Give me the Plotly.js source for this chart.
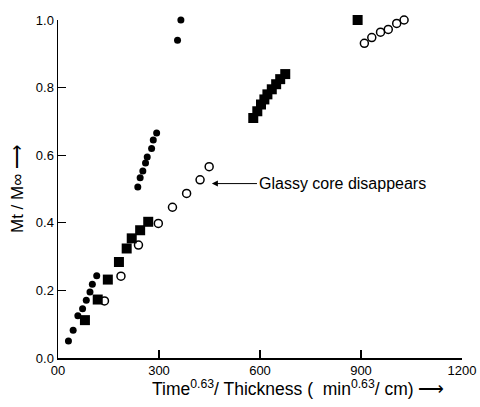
<!DOCTYPE html>
<html><head><meta charset="utf-8">
<script src="https://cdn.plot.ly/plotly-3.0.1.min.js"></script>
<style>html,body{margin:0;padding:0;background:#fff;}#chart{width:480px;height:407px;}</style>
</head><body><div id="chart"></div>
<script>
// Filled circles
const filledX = [31, 45, 59, 73, 84, 95, 102, 115, 237, 244, 252, 260, 265, 278, 283, 293, 355, 365];
const filledY = [0.050, 0.082, 0.125, 0.146, 0.171, 0.195, 0.218, 0.243, 0.506, 0.533, 0.553, 0.577, 0.595, 0.620, 0.645, 0.666, 0.94, 1.0];
// Open circles
const openX = [138, 187, 239, 298, 340, 382, 422, 449, 910, 932, 958, 981, 1006, 1028];
const openY = [0.169, 0.242, 0.334, 0.398, 0.446, 0.487, 0.527, 0.566, 0.931, 0.948, 0.964, 0.972, 0.990, 1.0];
// Filled squares
const squareX = [80, 118, 148, 181, 204, 219, 244, 268, 580, 592, 603, 613, 622, 635, 648, 660, 675, 890];
const squareY = [0.112, 0.173, 0.232, 0.284, 0.324, 0.354, 0.378, 0.403, 0.710, 0.730, 0.750, 0.765, 0.780, 0.795, 0.810, 0.825, 0.840, 1.0];
// Axis ticks
const xTickVals = [0, 300, 600, 900, 1200];
const xTickText = ["00", "300", "600", "900", "1200"];
const yTickVals = [0, 0.2, 0.4, 0.6, 0.8, 1.0];
const yTickText = ["0.0", "0.2", "0.4", "0.6", "0.8", "1.0"];
// Titles and annotation
const xTitle = 'Time<sup>0.63</sup>/ Thickness (  min<sup>0.63</sup>/ cm) ⟶';
const yTitle = 'Mt / M∞ ⟶';
const noteText = "Glassy core disappears";
const notePoint = [457, 0.516];
const noteTextPos = [591, 0.516];

const traces = [
  {x: squareX, y: squareY, type: 'scatter', mode: 'markers', cliponaxis: false,
   marker: {symbol: 'square', size: 10, color: '#000'}},
  {x: filledX, y: filledY, type: 'scatter', mode: 'markers', cliponaxis: false,
   marker: {symbol: 'circle', size: 7, color: '#000'}},
  {x: openX, y: openY, type: 'scatter', mode: 'markers', cliponaxis: false,
   marker: {symbol: 'circle-open', size: 8, color: '#000', line: {width: 1.5, color: '#000'}}}
];

const fontFam = 'Liberation Sans, Arial, sans-serif';
const layout = {
  width: 480, height: 407,
  margin: {l: 58, r: 18, t: 20, b: 49},
  paper_bgcolor: '#fff', plot_bgcolor: '#fff',
  showlegend: false,
  font: {family: fontFam, color: '#000', size: 13},
  xaxis: {
    range: [0, 1200], tickvals: xTickVals, ticktext: xTickText,
    ticks: 'inside', ticklen: 8, tickwidth: 1.3, tickcolor: '#000',
    showline: true, linecolor: '#000', linewidth: 1.5,
    showgrid: false, zeroline: false,
    tickfont: {size: 13, family: fontFam}
  },
  yaxis: {
    range: [0, 1], tickvals: yTickVals, ticktext: yTickText,
    ticks: 'inside', ticklen: 8, tickwidth: 1.3, tickcolor: '#000',
    showline: true, linecolor: '#000', linewidth: 1.5,
    showgrid: false, zeroline: false,
    tickfont: {size: 13, family: fontFam},
    title: {text: yTitle, font: {size: 17, family: fontFam}, standoff: 8}
  },
  annotations: [
    {x: notePoint[0], y: notePoint[1], ax: noteTextPos[0], ay: noteTextPos[1], axref: 'x', ayref: 'y',
     xref: 'x', yref: 'y', text: noteText, xanchor: 'left', yanchor: 'middle',
     showarrow: true, arrowhead: 2, arrowsize: 1.2, arrowwidth: 1, arrowcolor: '#000',
     font: {size: 16, family: fontFam, color: '#000'}},
    {x: 0.594, y: -0.089, xref: 'paper', yref: 'paper', text: xTitle, showarrow: false,
     xanchor: 'center', yanchor: 'middle', font: {size: 17.5, family: fontFam, color: '#000'}}
  ]
};
Plotly.newPlot('chart', traces, layout, {displayModeBar: false, staticPlot: true});
</script></body></html>
